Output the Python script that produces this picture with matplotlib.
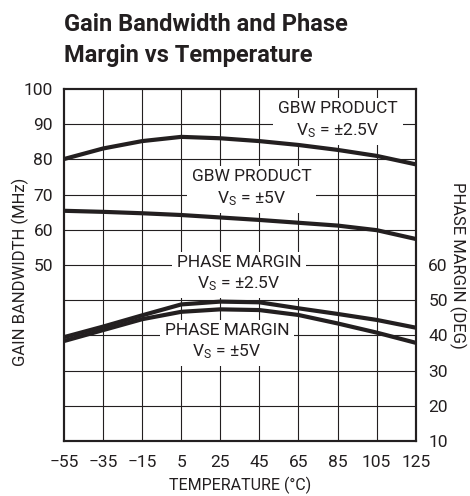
import matplotlib
matplotlib.use("Agg")
import matplotlib.pyplot as plt

# ---- data ----
temp = [-55, -35, -15, 5, 25, 45, 65, 85, 105, 125]
gbw_2p5 = [80.1, 83.1, 85.2, 86.4, 86.0, 85.2, 84.1, 82.7, 81.0, 78.6]
gbw_5 = [65.4, 65.1, 64.7, 64.2, 63.5, 62.8, 62.0, 61.2, 59.9, 57.4]
pm_2p5 = [39.5, 42.5, 45.7, 48.8, 49.6, 49.4, 47.7, 46.1, 44.4, 42.2]
pm_5 = [38.4, 41.5, 44.6, 46.7, 47.4, 47.2, 45.8, 43.4, 40.8, 37.9]

xticks = [-55, -35, -15, 5, 25, 45, 65, 85, 105, 125]
left_ticks = [50, 60, 70, 80, 90, 100]
right_ticks = [10, 20, 30, 40, 50, 60]

INK = '#231f20'
FAM = ['Roboto', 'DejaVu Sans']

plt.rcParams['font.family'] = FAM
plt.rcParams['mathtext.fontset'] = 'custom'
plt.rcParams['mathtext.rm'] = 'Roboto'
plt.rcParams['mathtext.it'] = 'Roboto'

fig = plt.figure(figsize=(4.70, 4.96), dpi=100)
ax = fig.add_axes([64/470, 1-441/496, (415.7-64)/470, (441-89)/496])
ax2 = ax.twinx()

ax.set_xlim(-55, 125)
ax.set_ylim(0, 100)
ax2.set_ylim(10, 110)

# grid
for g in range(10, 100, 10):
    ax.axhline(g, color=INK, lw=0.8, zorder=1)
for g in xticks[1:-1]:
    ax.axvline(g, color=INK, lw=0.8, zorder=1)

# curves
ax.plot(temp, gbw_2p5, color=INK, lw=3.0, zorder=5)
ax.plot(temp, gbw_5, color=INK, lw=3.0, zorder=5)
ax2.plot(temp, pm_2p5, color=INK, lw=3.0, zorder=5)
ax2.plot(temp, pm_5, color=INK, lw=3.0, zorder=5)

box = dict(facecolor='white', edgecolor='none', pad=3.5)
labels = [
    (85.2, 91.0, 'GBW PRODUCT\nV$_{\\mathrm{S}}$ = ±2.5V'),
    (41.0, 71.7, 'GBW PRODUCT\nV$_{\\mathrm{S}}$ = ±5V'),
    (34.6, 47.4, 'PHASE MARGIN\nV$_{\\mathrm{S}}$ = ±2.5V'),
    (28.4, 28.1, 'PHASE MARGIN\nV$_{\\mathrm{S}}$ = ±5V'),
]
for x, y, s in labels:
    ax.text(x, y, s, ha='center', va='center', multialignment='center',
            fontsize=12.5, color=INK, linespacing=1.35, bbox=box, zorder=3)

# ticks
ax.set_xticks(xticks)
ax.set_yticks(left_ticks)
ax2.set_yticks(right_ticks)
ax.tick_params(axis='both', length=0, labelsize=12.5, colors=INK)
ax.tick_params(axis='y', pad=8)
ax.tick_params(axis='x', pad=10)
ax2.tick_params(axis='y', length=0, labelsize=12.5, colors=INK, pad=9)

for a in (ax, ax2):
    for sp in a.spines.values():
        sp.set_linewidth(1.5)
        sp.set_color(INK)

# axis labels
fig.text(240/470, 1-485/496, 'TEMPERATURE (°C)', ha='center', va='center',
         fontsize=11.5, color=INK)
fig.text(20/470, 1-272/496, 'GAIN BANDWIDTH (MHz)', ha='center', va='center',
         rotation=90, fontsize=12, color=INK)
fig.text(457.5/470, 1-265/496, 'PHASE MARGIN (DEG)', ha='center', va='center',
         rotation=270, fontsize=12, color=INK)

# title
fig.text(64/470, 1-30.7/496, 'Gain Bandwidth and Phase', ha='left', va='baseline',
         fontsize=17, fontweight='bold', color=INK)
fig.text(64/470, 1-61.7/496, 'Margin vs Temperature', ha='left', va='baseline',
         fontsize=17, fontweight='bold', color=INK)

fig.savefig('out.png', dpi=100)
